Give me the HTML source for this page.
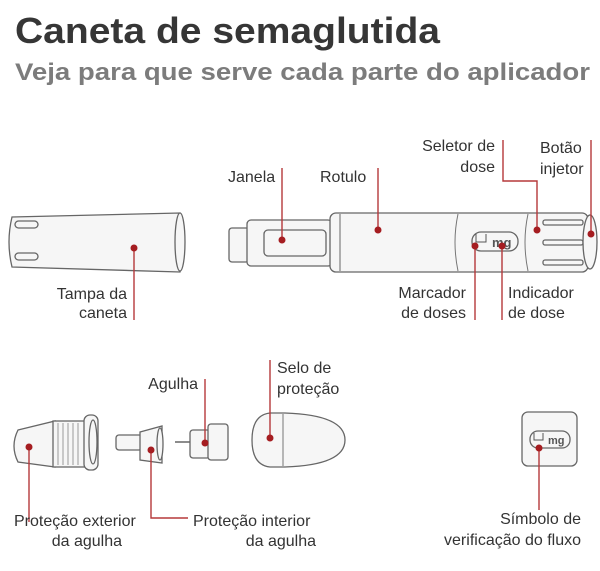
<!DOCTYPE html>
<html><head><meta charset="utf-8"><style>
html,body{margin:0;padding:0;background:#fff;}
svg{display:block;font-family:"Liberation Sans",sans-serif;}
.t{font-size:16px;fill:#333;}
.p{fill:#f6f6f6;stroke:#666;stroke-width:1.3;}
.l{stroke:#b5383a;stroke-width:1.4;fill:none;}
.d{fill:#a51d21;}
</style></head><body>
<svg width="600" height="571" viewBox="0 0 600 571">
<rect width="600" height="571" fill="#fff"/>
<text x="15" y="43" font-size="36" font-weight="bold" fill="#363636" textLength="425" lengthAdjust="spacingAndGlyphs">Caneta de semaglutida</text>
<text x="15" y="80" font-size="24" font-weight="bold" fill="#7c7c7c" textLength="575" lengthAdjust="spacingAndGlyphs">Veja para que serve cada parte do aplicador</text>

<!-- cap -->
<path class="p" d="M12 217 L180 213 Q188 242 180 272 L12 267 Q6 242 12 217Z"/>
<ellipse cx="180" cy="242" rx="5" ry="29" class="p"/>
<rect x="15" y="221" width="23" height="7" rx="3.5" class="p"/>
<rect x="15" y="253" width="23" height="7" rx="3.5" class="p"/>

<!-- pen -->
<rect x="229" y="228" width="20" height="34" rx="3" class="p"/>
<rect x="247" y="220" width="85" height="46" rx="4" class="p"/>
<rect x="264" y="230" width="62" height="26" rx="4" class="p"/>
<rect x="330" y="213" width="258" height="59" rx="6" class="p"/>
<line x1="340" y1="214" x2="340" y2="271" stroke="#666"/>
<path d="M458 214 Q452 242 458 271" stroke="#777" fill="none"/>
<path d="M528 214 Q522 242 528 271" stroke="#777" fill="none"/>
<rect x="472" y="232" width="46" height="19" rx="9" class="p"/>
<text x="492" y="247" font-size="13" font-weight="bold" fill="#555">mg</text>
<path d="M476 234 v8 h10 v-8" stroke="#555" fill="none"/>
<rect x="543" y="220" width="40" height="5" rx="2" class="p"/>
<rect x="543" y="240" width="40" height="5" rx="2" class="p"/>
<rect x="543" y="260" width="40" height="5" rx="2" class="p"/>
<ellipse cx="590" cy="242" rx="7" ry="27" class="p"/>

<!-- bottom parts -->
<path class="p" d="M18 430 L55 421 L55 467 L18 462 Q10 446 18 430Z"/>
<rect x="53" y="421" width="33" height="46" class="p"/>
<path d="M58 423v42M63 423v42M68 423v42M73 423v42M78 423v42" stroke="#999"/>
<rect x="84" y="415" width="14" height="55" rx="6" class="p"/>
<ellipse cx="93" cy="442" rx="4" ry="22" class="p"/>

<rect x="116" y="435" width="26" height="15" rx="3" class="p"/>
<path class="p" d="M140 432 L162 426 L162 463 L140 460Z"/>
<ellipse cx="160" cy="444" rx="3" ry="16" class="p"/>

<line x1="175" y1="442" x2="192" y2="442" stroke="#666" stroke-width="1.5"/>
<rect x="190" y="430" width="20" height="28" rx="3" class="p"/>
<rect x="208" y="424" width="20" height="36" rx="3" class="p"/>

<path class="p" d="M285 413 Q345 415 345 440 Q345 465 285 467 L270 467 Q252 465 252 440 Q252 415 270 413Z"/>
<line x1="283" y1="414" x2="283" y2="466" stroke="#777"/>

<rect x="522" y="412" width="55" height="54" rx="6" class="p"/>
<rect x="530" y="431" width="40" height="17" rx="8" class="p"/>
<text x="548" y="444" font-size="11" font-weight="bold" fill="#555">mg</text>
<path d="M534 433 v7 h9 v-7" stroke="#555" fill="none"/>

<!-- leader lines -->
<path class="l" d="M134 248 V320"/>
<path class="l" d="M282 240 V168"/>
<path class="l" d="M378 230 V168"/>
<path class="l" d="M503 140 V181 H537 V230"/>
<path class="l" d="M591 140 V234"/>
<path class="l" d="M475 246 V320"/>
<path class="l" d="M502 246 V320"/>
<path class="l" d="M29 447 V522"/>
<path class="l" d="M151 450 V518 H188"/>
<path class="l" d="M205 443 V379"/>
<path class="l" d="M270 438 V360"/>
<path class="l" d="M539 448 V510"/>

<g class="d">
<circle cx="134" cy="248" r="3.5"/><circle cx="282" cy="240" r="3.5"/><circle cx="378" cy="230" r="3.5"/>
<circle cx="537" cy="230" r="3.5"/><circle cx="591" cy="234" r="3.5"/><circle cx="475" cy="246" r="3.5"/>
<circle cx="502" cy="246" r="3.5"/><circle cx="29" cy="447" r="3.5"/><circle cx="151" cy="450" r="3.5"/>
<circle cx="205" cy="443" r="3.5"/><circle cx="270" cy="438" r="3.5"/><circle cx="539" cy="448" r="3.5"/>
</g>

<!-- labels -->
<g class="t">
<text x="127" y="299" text-anchor="end">Tampa da</text>
<text x="127" y="318" text-anchor="end">caneta</text>
<text x="228" y="182">Janela</text>
<text x="320" y="182">Rotulo</text>
<text x="495" y="151" text-anchor="end">Seletor de</text>
<text x="495" y="172" text-anchor="end">dose</text>
<text x="540" y="153">Botão</text>
<text x="540" y="174">injetor</text>
<text x="466" y="298" text-anchor="end">Marcador</text>
<text x="466" y="318" text-anchor="end">de doses</text>
<text x="508" y="298">Indicador</text>
<text x="508" y="318">de dose</text>
<text x="14" y="526">Proteção exterior</text>
<text x="122" y="546" text-anchor="end">da agulha</text>
<text x="193" y="526">Proteção interior</text>
<text x="316" y="546" text-anchor="end">da agulha</text>
<text x="198" y="389" text-anchor="end">Agulha</text>
<text x="277" y="373">Selo de</text>
<text x="277" y="394">proteção</text>
<text x="581" y="524" text-anchor="end">Símbolo de</text>
<text x="581" y="545" text-anchor="end">verificação do fluxo</text>
</g>
</svg>
</body></html>
